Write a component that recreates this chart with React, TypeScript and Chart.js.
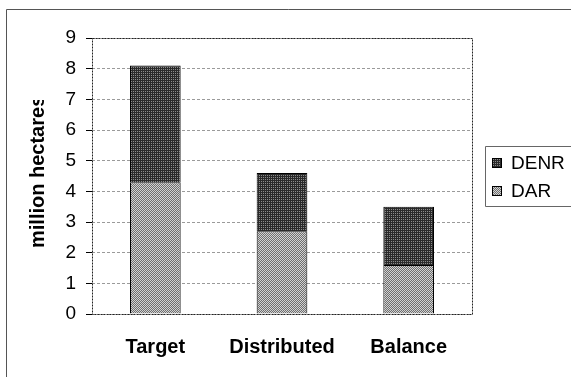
import React, { useEffect, useRef } from "react";
import { Chart, registerables } from "chart.js";

Chart.register(...registerables);

// Land distribution figures, million hectares
const categories = ["Target", "Distributed", "Balance"];
const darValues = [4.3, 2.7, 1.6];
const denrValues = [3.8, 1.9, 1.9];
const seriesNames = ["DAR", "DENR"];
const yTicks = [0, 1, 2, 3, 4, 5, 6, 7, 8, 9];
const yTitle = "million hectares";

const FONT = "'Liberation Sans', Arial, Helvetica, sans-serif";

// 2x2 dither tile used as a bar fill
function ditherPattern(a: string, b: string, c: string, d: string): CanvasPattern | string {
  const tile = document.createElement("canvas");
  tile.width = 2;
  tile.height = 2;
  const t = tile.getContext("2d");
  if (!t) return a;
  t.fillStyle = a; t.fillRect(0, 0, 1, 1);
  t.fillStyle = b; t.fillRect(1, 0, 1, 1);
  t.fillStyle = c; t.fillRect(0, 1, 1, 1);
  t.fillStyle = d; t.fillRect(1, 1, 1, 1);
  const p = t.createPattern(tile, "repeat");
  return p || a;
}

// Outer frame lines (top and left edge of the figure)
const framePlugin = {
  id: "outerFrame",
  beforeDraw(chart: any) {
    const ctx = chart.ctx;
    ctx.save();
    ctx.fillStyle = "#ffffff";
    ctx.fillRect(0, 0, chart.width, chart.height);
    ctx.strokeStyle = "#555555";
    ctx.lineWidth = 1;
    ctx.beginPath();
    ctx.moveTo(6.5, chart.height);
    ctx.lineTo(6.5, 9.5);
    ctx.lineTo(chart.width, 9.5);
    ctx.stroke();
    ctx.restore();
  },
};

// Dotted box around the plot area
const plotBoxPlugin = {
  id: "plotBox",
  afterDatasetsDraw(chart: any) {
    const { ctx, chartArea } = chart;
    ctx.save();
    ctx.strokeStyle = "#222222";
    ctx.lineWidth = 1;
    ctx.setLineDash([2, 1]);
    ctx.strokeRect(
      Math.round(chartArea.left) + 0.5,
      Math.round(chartArea.top) + 0.5,
      Math.round(chartArea.right - chartArea.left),
      Math.round(chartArea.bottom - chartArea.top)
    );
    ctx.restore();
  },
};

// Rotated axis title, cut off where the figure's text box ends
const yTitlePlugin = {
  id: "yTitleClipped",
  afterDraw(chart: any) {
    const ctx = chart.ctx;
    ctx.save();
    ctx.beginPath();
    ctx.rect(0, 100, 90, chart.height - 100);
    ctx.clip();
    ctx.translate(38, 248);
    ctx.rotate(-Math.PI / 2);
    ctx.font = `bold 20px ${FONT}`;
    ctx.fillStyle = "#000000";
    ctx.textAlign = "left";
    ctx.textBaseline = "middle";
    ctx.fillText(yTitle, 0, 0);
    ctx.restore();
  },
};

// Boxed legend on the right, top series listed first
const legendPlugin = {
  id: "boxLegend",
  afterDraw(chart: any) {
    const ctx = chart.ctx;
    const boxLeft = 485.5;
    const boxTop = 146.5;
    const boxBottom = 206.5;
    ctx.save();
    ctx.strokeStyle = "#666666";
    ctx.lineWidth = 1;
    ctx.beginPath();
    ctx.moveTo(chart.width + 2, boxTop);
    ctx.lineTo(boxLeft, boxTop);
    ctx.lineTo(boxLeft, boxBottom);
    ctx.lineTo(chart.width + 2, boxBottom);
    ctx.stroke();

    const items = chart.data.datasets.map((ds: any) => ds).reverse();
    ctx.font = `19px ${FONT}`;
    ctx.textAlign = "left";
    ctx.textBaseline = "middle";
    items.forEach((ds: any, i: number) => {
      const cy = 163 + i * 28;
      ctx.fillStyle = ds.backgroundColor;
      ctx.fillRect(493, cy - 4, 8, 8);
      ctx.strokeStyle = "#000000";
      ctx.strokeRect(492.5, cy - 4.5, 9, 9);
      ctx.fillStyle = "#000000";
      ctx.fillText(ds.label, 511, cy + 1);
    });
    ctx.restore();
  },
};

export default function App() {
  const canvasRef = useRef<HTMLCanvasElement | null>(null);

  useEffect(() => {
    const canvas = canvasRef.current;
    if (!canvas) return;

    const darFill = ditherPattern("#d2d2d2", "#6e6e6e", "#6e6e6e", "#d2d2d2");
    const denrFill = ditherPattern("#2a2a2a", "#2a2a2a", "#2a2a2a", "#8c8c8c");

    const chart = new Chart(canvas, {
      type: "bar",
      data: {
        labels: categories,
        datasets: [
          {
            label: seriesNames[0],
            data: darValues,
            backgroundColor: darFill as any,
            borderColor: "#000000",
            borderWidth: 1,
            barPercentage: 0.4,
            categoryPercentage: 1,
          },
          {
            label: seriesNames[1],
            data: denrValues,
            backgroundColor: denrFill as any,
            borderColor: "#000000",
            borderWidth: 1,
            barPercentage: 0.4,
            categoryPercentage: 1,
          },
        ],
      },
      options: {
        animation: false,
        responsive: false,
        devicePixelRatio: 1,
        layout: { padding: { left: 0, right: 99, top: 38, bottom: 0 } },
        plugins: {
          legend: { display: false },
          tooltip: { enabled: false },
          title: { display: false },
        },
        scales: {
          x: {
            stacked: true,
            grid: { display: false, drawTicks: false },
            border: { display: false },
            ticks: {
              padding: 21,
              color: "#000000",
              font: { family: FONT, size: 20, weight: "bold" },
            },
            afterFit: (scale: any) => {
              scale.height = 63;
            },
          },
          y: {
            stacked: true,
            min: 0,
            max: 9,
            afterBuildTicks: (scale: any) => {
              scale.ticks = yTicks.map((v) => ({ value: v }));
            },
            grid: {
              color: "#9a9a9a",
              lineWidth: 1,
              drawTicks: true,
              tickLength: 6,
              tickColor: "#000000",
              tickWidth: 1,
            },
            border: { display: false, dash: [3, 2] },
            ticks: {
              padding: 10,
              color: "#000000",
              font: { family: FONT, size: 19 },
            },
            afterFit: (scale: any) => {
              scale.width = 92;
            },
          },
        },
      },
      plugins: [framePlugin, plotBoxPlugin, yTitlePlugin, legendPlugin],
    });

    return () => {
      chart.destroy();
    };
  }, []);

  return (
    <div style={{ position: "absolute", left: 0, top: 0, width: 571, height: 377, background: "#fff" }}>
      <canvas ref={canvasRef} width={571} height={377} style={{ display: "block" }} />
    </div>
  );
}
